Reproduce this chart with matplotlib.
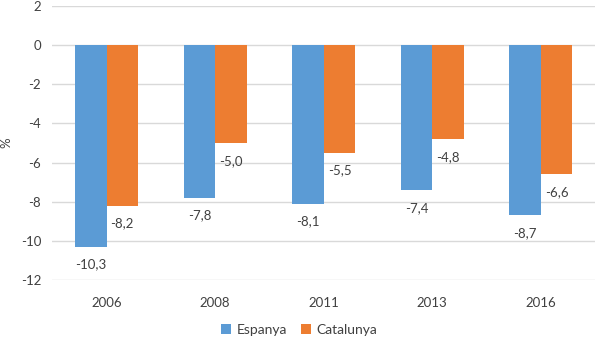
import numpy as np
import matplotlib.pyplot as plt

plt.rcParams['font.family'] = ['Lato', 'DejaVu Sans']
plt.rcParams['axes.unicode_minus'] = False

years = ['2006', '2008', '2011', '2013', '2016']
espanya = [-10.3, -7.8, -8.1, -7.4, -8.7]
catalunya = [-8.2, -5.0, -5.5, -4.8, -6.6]

blue = '#5B9BD5'
orange = '#ED7D31'
text_col = '#404040'

fig = plt.figure(figsize=(6, 3.38), dpi=100)
ax = fig.add_axes([0.087, 0.172, 0.905, 0.81])

x = np.arange(len(years))
w = 0.29
b1 = ax.bar(x - w / 2, espanya, w, color=blue, label='Espanya', zorder=3)
b2 = ax.bar(x + w / 2, catalunya, w, color=orange, label='Catalunya', zorder=3)

# value labels just beyond the end of each bar, decimal comma
for bars, vals in ((b1, espanya), (b2, catalunya)):
    for r, v in zip(bars, vals):
        ax.annotate(f'{v:.1f}'.replace('.', ','),
                    (r.get_x() + r.get_width() / 2, v),
                    xytext=(0, -8.5), textcoords='offset points',
                    ha='center', va='top', fontsize=9.5, color=text_col)

ax.set_ylim(-12, 2)
ax.set_xlim(-0.5, len(years) - 0.5)
ax.set_yticks(range(-12, 3, 2))
ax.set_xticks(x)
ax.set_xticklabels(years)
ax.yaxis.grid(True, color='#d9d9d9', linewidth=1, zorder=0)
for s in ax.spines.values():
    s.set_visible(False)
ax.tick_params(length=0, labelsize=9.5, colors=text_col, pad=8)
ax.tick_params(axis='x', pad=12)
ax.set_ylabel('%', fontsize=9.5, color=text_col, labelpad=6)

ax.legend(loc='upper center', bbox_to_anchor=(0.455, -0.115), ncol=2, frameon=False,
          fontsize=10, labelcolor=text_col, handlelength=0.7, handleheight=0.7,
          handletextpad=0.4, columnspacing=1.0)

fig.savefig('out.png')
